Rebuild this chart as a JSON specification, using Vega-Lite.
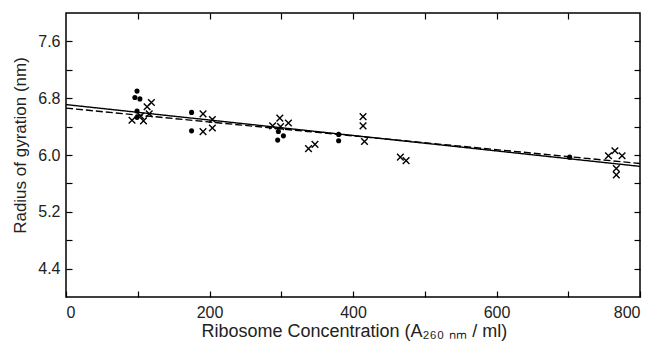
{
  "$schema": "https://vega.github.io/schema/vega-lite/v6.json",
  "width": 574,
  "height": 284,
  "autosize": {"type": "none"},
  "padding": {"left": 66, "top": 13, "right": 14, "bottom": 48},
  "background": "white",
  "config": {
    "view": {"stroke": "black", "strokeWidth": 1.5},
    "font": "Liberation Sans",
    "axis": {
      "domain": false, "grid": false, "tickColor": "black", "tickWidth": 1.2,
      "labelFont": "Liberation Sans", "labelFontSize": 16, "labelColor": "#222",
      "titleFont": "Liberation Sans", "titleFontWeight": "normal", "titleColor": "#222"
    }
  },
  "datasets": {
    "pts": [
      {"conc": 99, "rg": 6.90, "kind": "dot"},
      {"conc": 96, "rg": 6.81, "kind": "dot"},
      {"conc": 103, "rg": 6.79, "kind": "dot"},
      {"conc": 99, "rg": 6.62, "kind": "dot"},
      {"conc": 99, "rg": 6.53, "kind": "dot"},
      {"conc": 92, "rg": 6.49, "kind": "cross"},
      {"conc": 104, "rg": 6.55, "kind": "cross"},
      {"conc": 108, "rg": 6.48, "kind": "cross"},
      {"conc": 113, "rg": 6.68, "kind": "cross"},
      {"conc": 119, "rg": 6.74, "kind": "cross"},
      {"conc": 116, "rg": 6.58, "kind": "cross"},
      {"conc": 175, "rg": 6.60, "kind": "dot"},
      {"conc": 175, "rg": 6.34, "kind": "dot"},
      {"conc": 191, "rg": 6.58, "kind": "cross"},
      {"conc": 204, "rg": 6.50, "kind": "cross"},
      {"conc": 191, "rg": 6.33, "kind": "cross"},
      {"conc": 204, "rg": 6.38, "kind": "cross"},
      {"conc": 298, "rg": 6.52, "kind": "cross"},
      {"conc": 288, "rg": 6.41, "kind": "cross"},
      {"conc": 310, "rg": 6.45, "kind": "cross"},
      {"conc": 299, "rg": 6.40, "kind": "cross"},
      {"conc": 296, "rg": 6.33, "kind": "dot"},
      {"conc": 303, "rg": 6.27, "kind": "dot"},
      {"conc": 295, "rg": 6.21, "kind": "dot"},
      {"conc": 338, "rg": 6.09, "kind": "cross"},
      {"conc": 347, "rg": 6.15, "kind": "cross"},
      {"conc": 380, "rg": 6.29, "kind": "dot"},
      {"conc": 380, "rg": 6.20, "kind": "dot"},
      {"conc": 414, "rg": 6.54, "kind": "cross"},
      {"conc": 414, "rg": 6.41, "kind": "cross"},
      {"conc": 416, "rg": 6.19, "kind": "cross"},
      {"conc": 466, "rg": 5.97, "kind": "cross"},
      {"conc": 474, "rg": 5.92, "kind": "cross"},
      {"conc": 702, "rg": 5.97, "kind": "dot"},
      {"conc": 756, "rg": 5.99, "kind": "cross"},
      {"conc": 765, "rg": 6.06, "kind": "cross"},
      {"conc": 775, "rg": 5.99, "kind": "cross"},
      {"conc": 767, "rg": 5.81, "kind": "cross"},
      {"conc": 767, "rg": 5.72, "kind": "cross"}
    ],
    "fits": [
      {"conc": 0, "rg": 6.71, "fit": "solid"},
      {"conc": 800, "rg": 5.84, "fit": "solid"},
      {"conc": 0, "rg": 6.66, "fit": "dashed"},
      {"conc": 800, "rg": 5.88, "fit": "dashed"}
    ]
  },
  "layer": [
    {
      "data": {"name": "fits"},
      "mark": {"type": "line", "color": "black", "strokeWidth": 1.4},
      "encoding": {
        "x": {"field": "conc", "type": "quantitative", "scale": {"domain": [0, 800], "nice": false},
          "axis": {"orient": "bottom", "title": "Ribosome Concentration (A₂₆₀ ₙₘ / ml)", "titleFontSize": 18,
            "titleX": 135, "titleAlign": "left", "titleAnchor": "start", "titlePadding": 2,
            "values": [0, 100, 200, 300, 400, 500, 600, 700, 800], "labelExpr": "datum.value % 200 == 0 ? datum.label : ''",
            "offset": -6, "tickSize": 6, "labelPadding": 7}},
        "y": {"field": "rg", "type": "quantitative", "scale": {"domain": [4.0, 8.0], "nice": false, "zero": false},
          "axis": {"orient": "left", "title": "Radius of gyration (nm)", "titleFontSize": 17, "titlePadding": 8,
            "titleAnchor": "middle", "titleY": 132,
            "values": [4.4, 4.8, 5.2, 5.6, 6.0, 6.4, 6.8, 7.2, 7.6], "format": ".1f",
            "labelExpr": "(round(datum.value*10) % 8 == 4) ? datum.label : ''",
            "offset": -6, "tickSize": 6, "labelPadding": 6}},
        "strokeDash": {"field": "fit", "type": "nominal", "scale": {"domain": ["solid", "dashed"], "range": [[1, 0], [7, 3]]}, "legend": null}
      }
    },
    {
      "data": {"name": "pts"},
      "transform": [{"filter": "datum.kind == 'dot'"}],
      "mark": {"type": "point", "shape": "circle", "filled": true, "color": "black", "size": 26, "opacity": 1},
      "encoding": {
        "x": {"field": "conc", "type": "quantitative",
          "axis": {"orient": "top", "title": null, "labels": false, "values": [100, 200, 300, 400, 500, 600, 700], "offset": -6, "tickSize": 6}},
        "y": {"field": "rg", "type": "quantitative",
          "axis": {"orient": "right", "title": null, "labels": false, "values": [4.4, 4.8, 5.2, 5.6, 6.0, 6.4, 6.8, 7.2, 7.6], "offset": -6, "tickSize": 6}}
      }
    },
    {
      "data": {"name": "pts"},
      "transform": [{"filter": "datum.kind == 'cross'"}],
      "mark": {"type": "point", "shape": "M-1,-1L1,1M1,-1L-1,1", "filled": false, "color": "black", "size": 44, "strokeWidth": 1.4, "opacity": 1},
      "encoding": {
        "x": {"field": "conc", "type": "quantitative", "axis": null},
        "y": {"field": "rg", "type": "quantitative", "axis": null}
      }
    }
  ],
  "resolve": {"axis": {"x": "independent", "y": "independent"}}
}
